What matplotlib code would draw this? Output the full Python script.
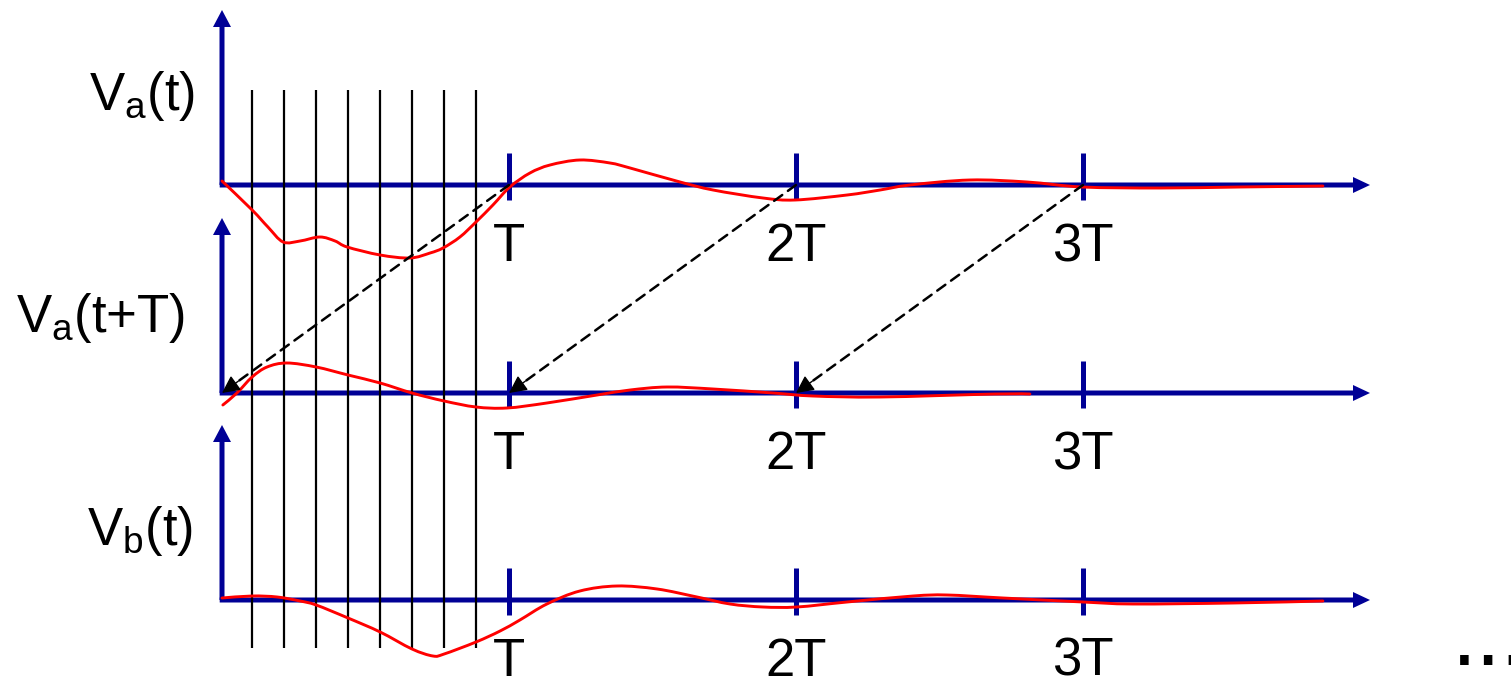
import math
import matplotlib
matplotlib.use("Agg")
import matplotlib.pyplot as plt
from matplotlib.patches import FancyArrow, PathPatch
from matplotlib.path import Path

plt.rcParams["font.family"] = ["Liberation Sans", "DejaVu Sans"]
plt.rcParams["mathtext.fontset"] = "custom"
plt.rcParams["mathtext.rm"] = "Liberation Sans"
plt.rcParams["mathtext.it"] = "Liberation Sans:italic"

# ---- signal data (time in units of T, amplitude in display units) ----
va_t = [0.0, 0.105, 0.160, 0.213, 0.272, 0.341, 0.394, 0.436, 0.551, 0.655,
        0.725, 0.770, 0.829, 0.885, 0.944, 1.003, 1.073, 1.143, 1.247, 1.352,
        1.422, 1.596, 1.711, 1.885, 1.997, 2.178, 2.293, 2.397, 2.606, 2.805,
        2.997, 3.268, 3.547, 3.836]
va_v = [4, -25, -42, -57, -56, -52, -56, -62, -70, -73,
        -68, -63, -52, -37, -20, -2, 12, 20, 25, 22,
        17, 3, -5, -13, -15, -10, -5, 0, 5, 3,
        -2, -3, -2, -1]

vashift_t = [0.003, 0.052, 0.105, 0.157, 0.226, 0.328, 0.439, 0.551, 0.662,
             0.774, 0.885, 0.993, 1.132, 1.307, 1.422, 1.551, 1.711, 1.920,
             2.059, 2.293, 2.693, 2.815]
vashift_v = [-12, 0, 16, 26, 30, 26, 18, 10, 0,
             -8, -14, -15, -10, -2, 3, 6, 4, 0,
             -3, -4, -1, -1]

vb_t = [0.0, 0.105, 0.192, 0.272, 0.328, 0.439, 0.551, 0.662, 0.735, 0.774,
        0.885, 0.969, 1.038, 1.132, 1.247, 1.376, 1.516, 1.655, 1.770, 1.885,
        2.003, 2.178, 2.408, 2.526, 2.721, 3.000, 3.174, 3.523, 3.836]
vb_v = [2, 4, 3, -1, -5, -18, -32, -49, -56, -54,
        -42, -31, -20, -4, 9, 14, 11, 3, -4, -7,
        -7, -2, 4, 5, 2, -2, -4, -3, -1]

sample_times = [0.105, 0.216, 0.327, 0.439, 0.550, 0.662, 0.773, 0.885]

tick_times = [1, 2, 3]
tick_labels = ["T", "2T", "3T"]
axis_end = 4.0

panel_labels = [r"V$_\mathregular{a}$(t)", r"V$_\mathregular{a}$(t+T)",
                r"V$_\mathregular{b}$(t)"]
curves = [(va_t, va_v), (vashift_t, vashift_v), (vb_t, vb_v)]

# ---- layout (pixels) ----
W, H, DPI = 1511, 681, 100
T_PX = 287.0
X0_PX = 222.0
baselines = [185, 393, 600]
label_right = [195, 185, 193]
label_base = [110, 332, 545]
ABOVE, BELOW = 190, 100
SAMPLE_TOP, SAMPLE_BOTTOM = 90, 648

BLUE = "#000096"
RED = "#ff0000"


def smooth_path(xs, ys):
    """Cubic Bezier path through the given points (Catmull-Rom tangents)."""
    pts = list(zip(xs, ys))
    n = len(pts)
    verts = [pts[0]]
    codes = [Path.MOVETO]
    for i in range(n - 1):
        p0 = pts[i - 1] if i > 0 else pts[i]
        p1 = pts[i]
        p2 = pts[i + 1]
        p3 = pts[i + 2] if i + 2 < n else pts[i + 1]
        c1 = (p1[0] + (p2[0] - p0[0]) / 6, p1[1] + (p2[1] - p0[1]) / 6)
        c2 = (p2[0] - (p3[0] - p1[0]) / 6, p2[1] - (p3[1] - p1[1]) / 6)
        verts += [c1, c2, p2]
        codes += [Path.CURVE4] * 3
    return Path(verts, codes)


fig = plt.figure(figsize=(W / DPI, H / DPI), dpi=DPI)

axes = []
for b in baselines:
    ax = fig.add_axes([0, (H - b - BELOW) / H, 1, (ABOVE + BELOW) / H])
    ax.set_xlim(-X0_PX / T_PX, (W - X0_PX) / T_PX)
    ax.set_ylim(-BELOW, ABOVE)
    ax.axis("off")
    ax.patch.set_alpha(0)
    axes.append(ax)

splits = [(baselines[i] + baselines[i + 1]) / 2 for i in range(len(baselines) - 1)]
bounds = [SAMPLE_TOP] + splits + [SAMPLE_BOTTOM]

for i, (ax, b) in enumerate(zip(axes, baselines)):
    # coordinate axes with arrow heads
    ax.add_patch(FancyArrow(-0.008, 0, axis_end + 0.008, 0, width=5,
                            head_width=16, head_length=17 / T_PX,
                            length_includes_head=True, color=BLUE, lw=0,
                            zorder=1, clip_on=False))
    ax.add_patch(FancyArrow(0, 0, 0, 175, width=5 / T_PX,
                            head_width=18 / T_PX, head_length=17,
                            length_includes_head=True, color=BLUE, lw=0,
                            zorder=1, clip_on=False))
    ax.vlines(tick_times, -15, 32, colors=BLUE, lw=3.6, capstyle="butt",
              zorder=1)
    for tt, lab in zip(tick_times, tick_labels):
        ax.text(tt, -76, lab, ha="center", va="baseline", fontsize=38)

    # sampling instants
    ytop, ybot = bounds[i], bounds[i + 1]
    ax.vlines(sample_times, b - ybot, b - ytop, colors="black", lw=1.6,
              zorder=2, clip_on=False)

    # waveform
    t, v = curves[i]
    ax.add_patch(PathPatch(smooth_path(t, v), fill=False, edgecolor=RED,
                           lw=2.1, zorder=3, capstyle="round",
                           joinstyle="round", clip_on=False))

    ax.text((label_right[i] - X0_PX) / T_PX, b - label_base[i], panel_labels[i],
            ha="right", va="baseline", fontsize=38)

# dashed shift arrows from Va(t) at kT to Va(t+T) at (k-1)T,
# drawn in the Va(t+T) panel where the Va(t) axis sits `gap` units higher
ax2 = axes[1]
gap = baselines[1] - baselines[0]
seg = math.hypot(T_PX, gap)
back = 20.0
for k in tick_times:
    ax2.annotate("", xy=(k - 1, 0), xytext=(k, gap),
                 arrowprops=dict(arrowstyle="-", linestyle=(0, (4, 2.8)),
                                 lw=1.8, color="black", shrinkA=0,
                                 shrinkB=11),
                 annotation_clip=False, zorder=5)
    ax2.annotate("", xy=(k - 1, 0),
                 xytext=(k - 1 + back / seg, back * gap / seg),
                 arrowprops=dict(arrowstyle="-|>", lw=1.0, color="black",
                                 mutation_scale=27, shrinkA=0, shrinkB=0),
                 annotation_clip=False, zorder=6)

fig.text(1452 / W, 1 - 665 / H, "...", fontsize=64, ha="left", va="baseline")

fig.savefig("out.png", dpi=DPI)
